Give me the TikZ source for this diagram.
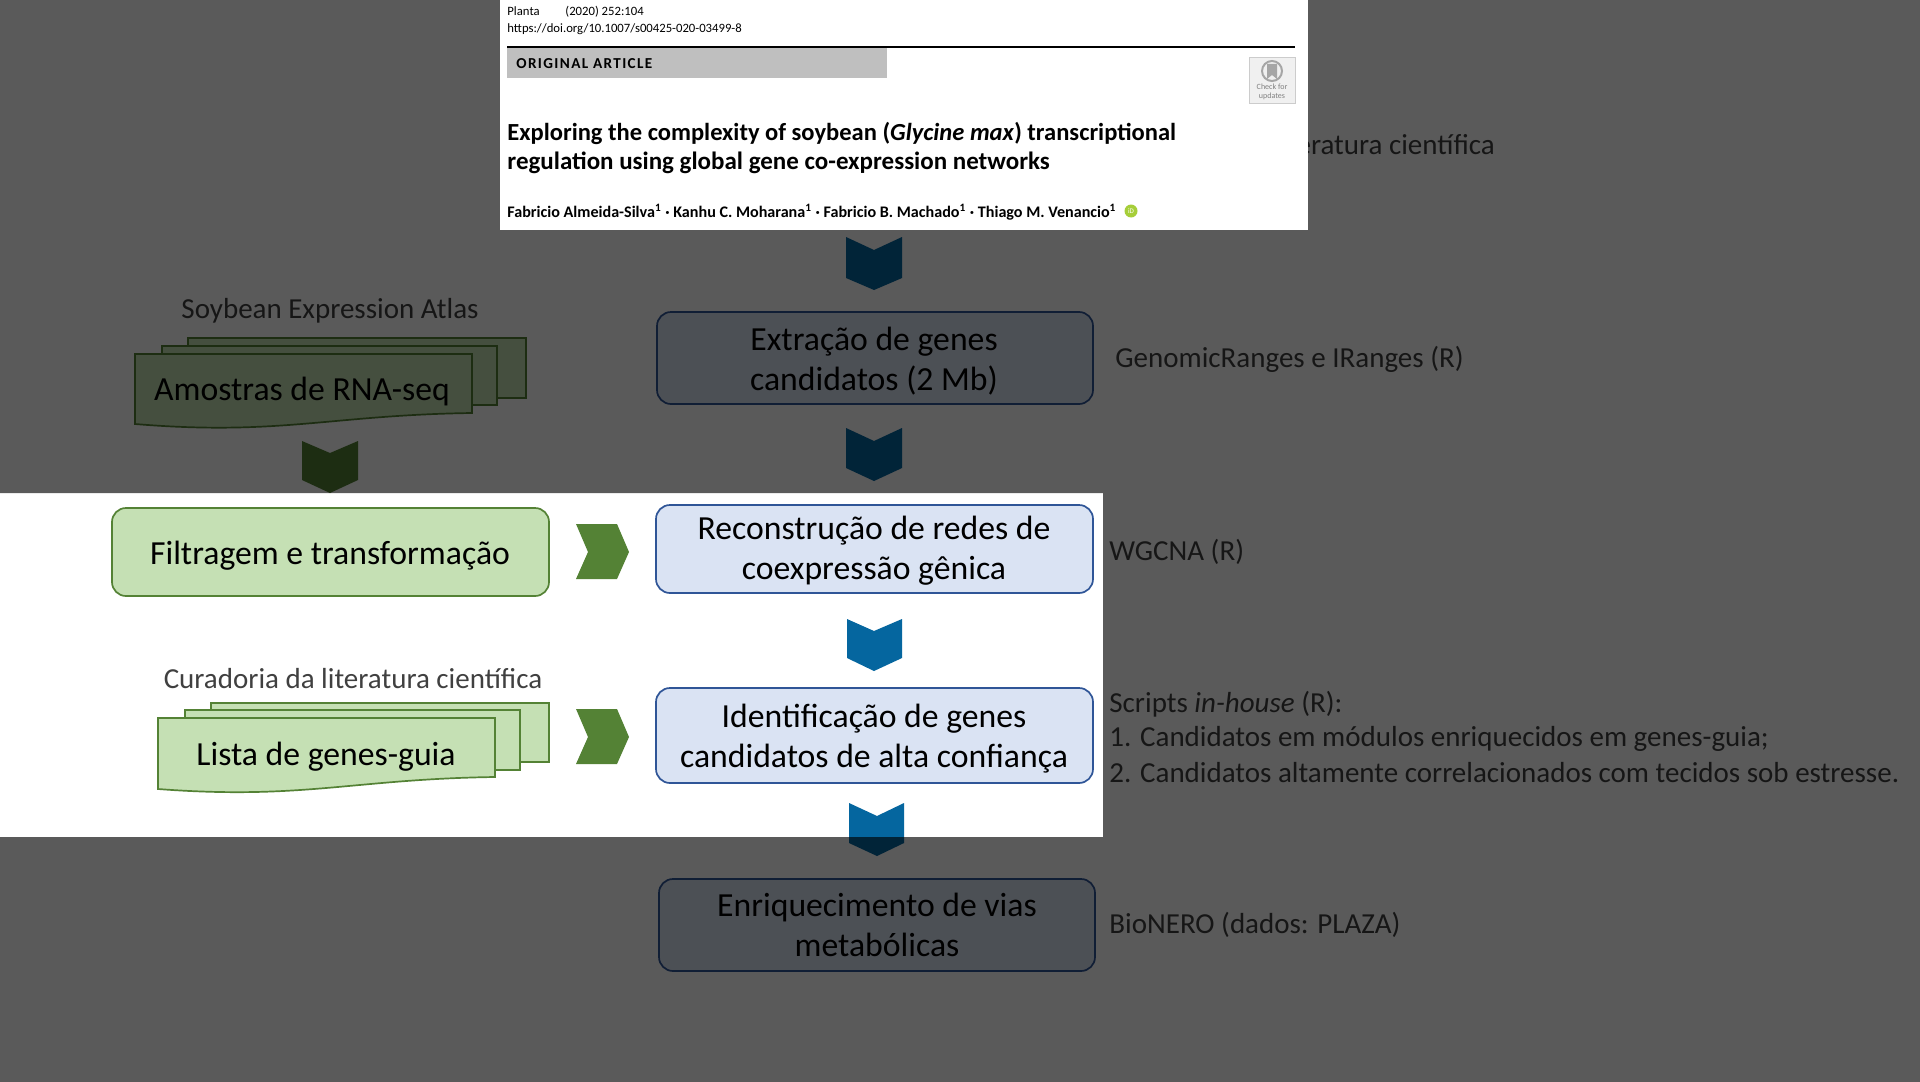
\documentclass[tikz,border=0pt]{standalone}
\usepackage{fontspec}
\usepackage{tikz}
\setmainfont{Carlito}
\definecolor{greenfill}{HTML}{C5E0B4}
\definecolor{greenline}{HTML}{548235}
\definecolor{bluefill}{HTML}{DAE3F3}
\definecolor{blueline}{HTML}{2F5597}
\definecolor{bluearrow}{HTML}{05669F}
\definecolor{sidegray}{HTML}{404040}
\definecolor{orcidgreen}{HTML}{A6CE39}
\tikzset{
  greenbox/.style={draw=greenline, fill=greenfill, line width=0.85pt, rounded corners=7pt},
  bluebox/.style={draw=blueline, fill=bluefill, line width=0.85pt, rounded corners=7pt},
  stacksheet/.style={draw=greenline, fill=greenfill, line width=0.85pt},
  boxtext/.style={inner sep=0pt, align=center, font=\fontsize{16.85}{20}\selectfont},
  sidetext/.style={inner sep=0pt, anchor=west, text=sidegray, font=\fontsize{14.5}{17}\selectfont},
  papertext/.style={inner sep=0pt, anchor=west, font=\fontsize{6.35}{8}\selectfont},
  titletext/.style={inner sep=0pt, anchor=west, font=\fontsize{12.27}{14}\selectfont\bfseries},
  authortext/.style={inner sep=0pt, anchor=west, font=\fontsize{8.06}{9}\selectfont\bfseries}
}
\begin{document}
\begin{tikzpicture}[x=0.5pt, y=-0.5pt]
        \useasboundingbox (0,0) rectangle (1920,1081);
        \fill [white] (0,0) rectangle (1920,1081);
        % left column
        \node (atlas) [sidetext, anchor=center] at (330,310.5) {Soybean Expression Atlas};
        \draw [stacksheet] (188,338) rectangle (526,398);                   %back sheet
        \draw [stacksheet] (162,346) rectangle (497,405);                   %middle sheet
        \draw [stacksheet] (135,354) -- (472,354) -- (472,413) .. controls (330,415) and (280,436) .. (135,424) -- cycle;
        \node (samples) [boxtext] at (302,392) {Amostras de RNA-seq};
        \fill [greenline] (302,441) -- (330,453) -- (358,441) -- (358,480) -- (330,493) -- (302,480) -- cycle;
        \draw [greenbox] (112,508) rectangle (549,596);
        \node (filter) [boxtext] at (330,555.5) {Filtragem e transformação};
        \fill [greenline] (576,524) -- (617,524) -- (629,552) -- (617,579) -- (576,579) -- (588,552) -- cycle;
        \node (curation) [sidetext, anchor=center] at (353,679) {Curadoria da literatura científica};
        \draw [stacksheet] (211,703) rectangle (549,762);                   %back sheet
        \draw [stacksheet] (185,710) rectangle (520,770);                   %middle sheet
        \draw [stacksheet] (158,718) -- (495,718) -- (495,777) .. controls (353,779) and (303,800) .. (158,789) -- cycle;
        \node (guides) [boxtext] at (326,756.5) {Lista de genes-guia};
        \fill [greenline] (576,709) -- (617,709) -- (629,737) -- (617,764) -- (576,764) -- (588,737) -- cycle;
        % central column
        \fill [bluearrow] (846,237) -- (874,250) -- (902,237) -- (902,278) -- (874,290) -- (846,278) -- cycle;
        \draw [bluebox] (657,312) rectangle (1093,404);
        \node (extract) [boxtext] at (874,361) {Extração de genes\\candidatos (2 Mb)};
        \fill [bluearrow] (846,428) -- (874,441) -- (902,428) -- (902,468) -- (874,481) -- (846,468) -- cycle;
        \draw [bluebox] (656,505) rectangle (1093,593);
        \node (network) [boxtext] at (874,551) {Reconstrução de redes de\\coexpressão gênica};
        \fill [bluearrow] (847,619) -- (874,631) -- (902,619) -- (902,658) -- (874,671) -- (847,658) -- cycle;
        \draw [bluebox] (656,688) rectangle (1093,783);
        \node (highconf) [boxtext] at (874,738.5) {Identificação de genes\\candidatos de alta confiança};
        \fill [bluearrow] (849,803) -- (877,816) -- (904,803) -- (904,843) -- (877,856) -- (849,843) -- cycle;
        \draw [bluebox] (659,879) rectangle (1095,971);
        \node (pathway) [boxtext] at (877,925) {Enriquecimento de vias\\metabólicas};
        % right column
        \node (litcuration) [sidetext] at (1116,145) {Curadoria da literatura científica};
        \node (granges) [sidetext] at (1115,359.5) {GenomicRanges e IRanges (R)};
        \node (wgcna) [sidetext] at (1109,551.5) {WGCNA (R)};
        \node (scripts) [sidetext] at (1109,704) {Scripts \textit{in-house} (R):};
        \node (firstitem) [sidetext] at (1109,739) {1. Candidatos em módulos enriquecidos em genes-guia;};
        \node (seconditem) [sidetext] at (1109,773) {2. Candidatos altamente correlacionados com tecidos sob estresse.};
        \node (bionero) [sidetext] at (1109,925) {BioNERO (dados: PLAZA)};
        % dimming, with the highlighted band left open
        \fill [black, opacity=0.647, even odd rule] (-5,-5) rectangle (1925,1086) (-5,493) rectangle (1103,837);
        % article header
        \fill [white] (500,0) rectangle (1308,230);
        \node (journal) [papertext] at (507,11.5) {Planta};
        \node (volume) [papertext] at (565,11.5) {(2020) 252:104};
        \node (doi) [papertext] at (507,29.5) {https://doi.org/10.1007/s00425-020-03499-8};
        \fill [gray!50] (507,47) rectangle (887,78);
        \draw [line width=0.8pt] (507,47) -- (1295,47);
        \node (kind) [inner sep=0pt, anchor=west, font=\fontsize{7.6}{9}\selectfont\bfseries\addfontfeatures{LetterSpace=9}] at (516,64) {ORIGINAL ARTICLE};
        \draw [gray!40, fill=gray!12] (1249,57) rectangle (1295,103);
        \draw [gray!70, line width=1pt] (1272,71) circle (10);
        \fill [gray!70] (1267,64) -- (1277,64) -- (1277,79) -- (1272,75) -- (1267,79) -- cycle;
        \node (updates) [inner sep=0pt, align=center, text=gray, font=\fontsize{4}{4.6}\selectfont] at (1272,92) {Check for\\updates};
        \node (titleone) [titletext] at (507,133) {Exploring the complexity of soybean (\textit{Glycine max}) transcriptional};
        \node (titletwo) [titletext, font=\fontsize{12.5}{14}\selectfont\bfseries] at (507,162.5) {regulation using global gene co-expression networks};
        \node (authors) [authortext] at (507,212) {Fabricio Almeida-Silva\textsuperscript{1} · Kanhu C. Moharana\textsuperscript{1} · Fabricio B. Machado\textsuperscript{1} · Thiago M. Venancio\textsuperscript{1}};
        \node (orcid) [circle, fill=orcidgreen, text=white, inner sep=0pt, minimum size=6.5pt, font=\fontsize{3.5}{4}\selectfont] at (1131,211) {iD};
\end{tikzpicture}
\end{document}
